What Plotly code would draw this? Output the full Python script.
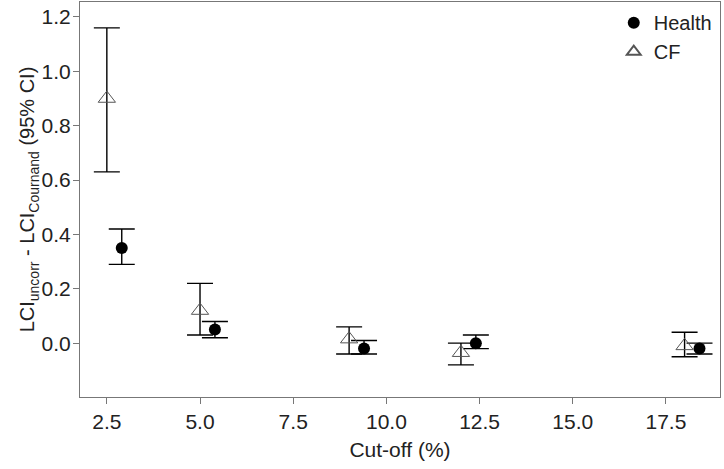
import plotly.graph_objects as go

# cut-off positions (CF at nominal, Health slightly offset to the right)
cf_x = [2.5, 5.0, 9.0, 12.0, 18.0]
cf_y = [0.90, 0.12, 0.015, -0.035, -0.01]
cf_hi = [1.16, 0.22, 0.06, 0.0, 0.04]
cf_lo = [0.63, 0.03, -0.04, -0.08, -0.05]

health_x = [2.9, 5.4, 9.4, 12.4, 18.4]
health_y = [0.35, 0.05, -0.02, 0.0, -0.02]
health_hi = [0.42, 0.08, 0.01, 0.03, 0.0]
health_lo = [0.29, 0.02, -0.04, -0.02, -0.04]

x_ticks = [2.5, 5.0, 7.5, 10.0, 12.5, 15.0, 17.5]
y_ticks = [0.0, 0.2, 0.4, 0.6, 0.8, 1.0, 1.2]


def err(y, hi, lo):
    return dict(
        type="data", symmetric=False,
        array=[h - v for h, v in zip(hi, y)],
        arrayminus=[v - l for v, l in zip(y, lo)],
        color="black", thickness=1.4, width=13,
    )


fig = go.Figure()

fig.add_trace(go.Scatter(
    x=health_x, y=health_y, mode="markers", name="Health",
    marker=dict(symbol="circle", size=12, color="black"),
    error_y=err(health_y, health_hi, health_lo),
))

fig.add_trace(go.Scatter(
    x=cf_x, y=cf_y, mode="markers", name="CF",
    marker=dict(symbol="triangle-up-open", size=15, color="#555555",
                line=dict(width=1)),
    error_y=err(cf_y, cf_hi, cf_lo),
))

axis_common = dict(
    showgrid=False, zeroline=False, showline=True, linecolor="#777777",
    linewidth=1, mirror=True, ticks="outside", ticklen=6, tickcolor="#777777",
    tickfont=dict(size=21, color="#222222"),
)

fig.update_layout(
    width=724, height=469,
    paper_bgcolor="white", plot_bgcolor="white",
    font=dict(family="Liberation Sans, Arial, sans-serif", color="#222222"),
    margin=dict(l=80, r=4, t=2, b=72),
    showlegend=True,
    legend=dict(x=0.834, y=0.997, xanchor="left", yanchor="top",
                font=dict(size=20), bgcolor="rgba(0,0,0,0)",
                itemsizing="constant", tracegroupgap=0),
    xaxis=dict(
        axis_common, range=[1.78, 18.95], tickvals=x_ticks,
        ticktext=[f"{t:.1f}" for t in x_ticks],
        title=dict(text="Cut-off (%)", font=dict(size=21), standoff=10),
    ),
    yaxis=dict(
        axis_common, range=[-0.198, 1.255], tickvals=y_ticks,
        ticktext=[f"{t:.1f}" for t in y_ticks], ticklabelstandoff=-2,
        title=dict(text="LCI<sub>uncorr</sub> - LCI<sub>Cournand</sub> (95% CI)",
                   font=dict(size=20), standoff=0),
    ),
)

fig.write_html("out.html", config={"displayModeBar": False},
               post_script="document.body.style.margin='0';")
